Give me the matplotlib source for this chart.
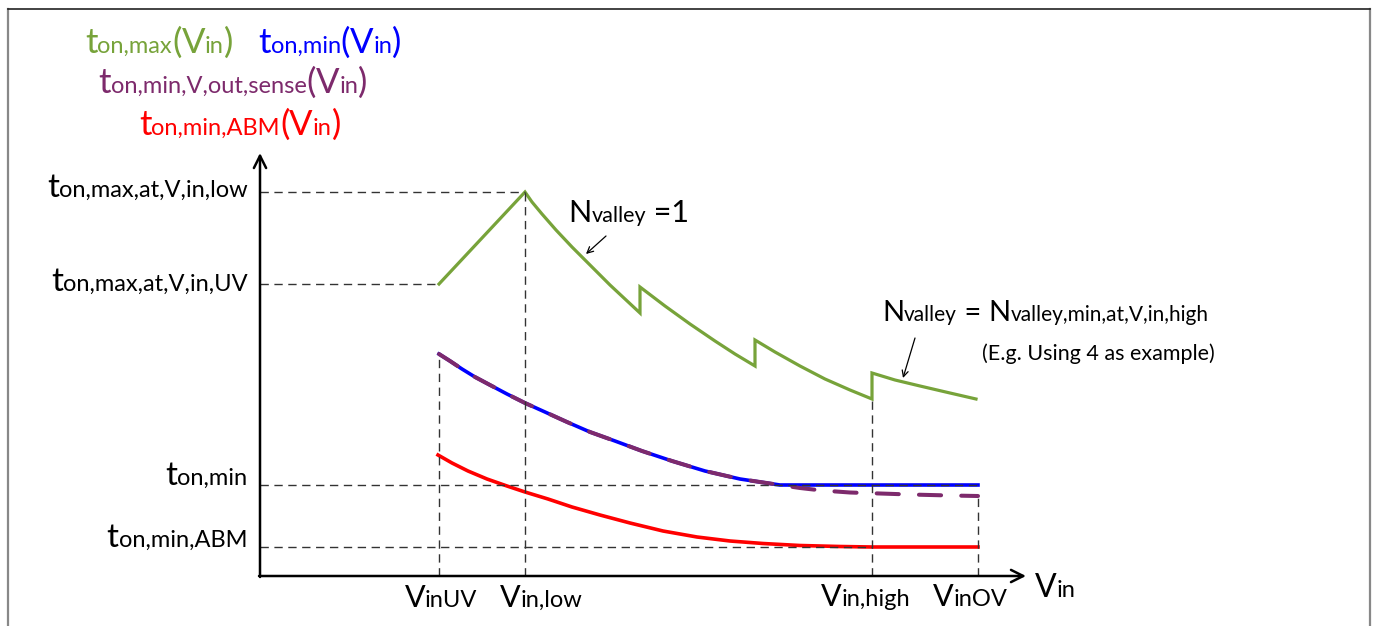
import matplotlib
matplotlib.use("Agg")
import matplotlib.pyplot as plt
from matplotlib.transforms import offset_copy
from matplotlib.lines import Line2D

plt.rcParams['font.family'] = ['Lato', 'DejaVu Sans']

# key voltages / times (arbitrary schematic units)
vin_uv, vin_low, vin_high, vin_ov = 17.9, 26.5, 61.2, 71.8
t_max_low, t_max_uv, t_min, t_min_abm = 38.4, 29.2, 9.1, 2.9

# t_on,max(Vin): ramp up then sawtooth decay (valley jumps)
green_v = [17.9, 26.5, 27.2, 28.2, 29.6, 31.2, 33.0, 35.0, 38.0,
           38.0, 40.5, 43.0, 45.5, 47.5, 49.5,
           49.5, 51.5, 54.0, 56.5, 59.0, 61.2,
           61.2, 63.5, 66.0, 69.0, 71.6]
green_t = [29.2, 38.4, 37.4, 36.2, 34.6, 32.9, 31.1, 29.1, 26.3,
           28.9, 27.0, 25.2, 23.5, 22.2, 21.0,
           23.6, 22.4, 21.0, 19.7, 18.6, 17.7,
           20.3, 19.6, 19.0, 18.3, 17.7]

# t_on,min(Vin)
blue_v = [17.9, 19.0, 20.2, 21.5, 23.0, 24.7, 26.5, 28.5, 30.7, 33.0, 35.5,
          38.2, 41.2, 44.5, 48.0, 52.0, 71.8]
blue_t = [22.2, 21.5, 20.7, 19.9, 19.1, 18.2, 17.3, 16.4, 15.4, 14.4, 13.5,
          12.5, 11.5, 10.5, 9.7, 9.1, 9.1]

# t_on,min,V,out,sense(Vin)
purple_v = [17.9, 19.0, 20.2, 21.5, 23.0, 24.7, 26.5, 28.5, 30.7, 33.0, 35.5,
            38.2, 41.2, 44.5, 48.0, 52.0, 54.0, 56.2, 59.0, 62.0, 65.0, 69.0, 71.8]
purple_t = [22.2, 21.5, 20.7, 19.9, 19.1, 18.2, 17.3, 16.4, 15.4, 14.4, 13.5,
            12.5, 11.5, 10.5, 9.7, 9.1, 8.8, 8.55, 8.35, 8.25, 8.15, 8.05, 8.0]

# t_on,min,ABM(Vin)
red_v = [17.8, 19.2, 20.8, 22.7, 24.7, 26.5, 28.8, 31.2, 34.0, 37.0, 40.3,
         43.7, 47.0, 50.3, 54.0, 58.0, 61.2, 71.8]
red_t = [12.1, 11.3, 10.5, 9.7, 9.0, 8.4, 7.7, 6.9, 6.1, 5.3, 4.5,
         3.9, 3.5, 3.25, 3.05, 2.95, 2.9, 2.9]

GREEN = '#77a33a'
BLUE = '#0000ff'
PURPLE = '#7d2a6c'
RED = '#ff0000'

fig = plt.figure(figsize=(13.75, 6.26), dpi=100)
ax = fig.add_axes([0, 0, 1, 1])
ax.set_xlim(-26, 111.5)
ax.set_ylim(-5, 57.6)
ax.axis('off')

# frame around the slide
fig.add_artist(Line2D([8/1375, 8/1375], [0, 1 - 9/626], transform=fig.transFigure, color='#888888', lw=1.6))
fig.add_artist(Line2D([1370/1375, 1370/1375], [0, 1 - 9/626], transform=fig.transFigure, color='#888888', lw=1.6))
fig.add_artist(Line2D([8/1375, 1370/1375], [1 - 9/626, 1 - 9/626], transform=fig.transFigure, color='#222222', lw=1.2))

# curves
ax.plot(green_v, green_t, color=GREEN, lw=2.3, solid_joinstyle='miter', zorder=3)
ax.plot(blue_v, blue_t, color=BLUE, lw=2.6, zorder=3)
ax.plot(purple_v, purple_t, color=PURPLE, lw=2.9, dashes=(5.5, 5), dash_capstyle='round', zorder=4)
ax.plot(red_v, red_t, color=RED, lw=2.6, zorder=3)

# dashed guide lines
ref = dict(color='#333333', lw=1.0, dashes=(6, 4), zorder=5)
ax.plot([0, vin_low], [t_max_low, t_max_low], **ref)
ax.plot([0, vin_uv], [t_max_uv, t_max_uv], **ref)
ax.plot([0, vin_ov], [t_min, t_min], **ref)
ax.plot([0, vin_high], [t_min_abm, t_min_abm], **ref)
ax.plot([vin_uv, vin_uv], [0, blue_t[0]], **ref)
ax.plot([vin_low, vin_low], [0, t_max_low], **ref)
ax.plot([vin_high, vin_high], [0, green_t[20]], **ref)
ax.plot([vin_ov, vin_ov], [0, purple_t[-1]], **ref)

# axes with arrows
arr = dict(arrowstyle='->', lw=1.8, color='black', shrinkA=0, shrinkB=0, mutation_scale=22)
ax.annotate('', xy=(0, 42.3), xytext=(0, -0.1), arrowprops=arr, zorder=6)
ax.annotate('', xy=(76.6, 0), xytext=(-0.1, 0), arrowprops=arr, zorder=6)

renderer = fig.canvas.get_renderer()


def rich(x, y, parts, ha='left'):
    texts = []
    for s, size, color in parts:
        texts.append(ax.text(x, y, s, fontsize=size, color=color, va='baseline', ha='left'))
    widths = [t.get_window_extent(renderer).width for t in texts]
    shift = {'left': 0, 'center': -sum(widths) / 2, 'right': -sum(widths)}[ha]
    for t, w in zip(texts, widths):
        t.set_transform(offset_copy(ax.transData, fig=fig, x=shift, y=0, units='dots'))
        shift += w


def func_label(x, y, sub, color, ha='left'):
    B, S = 25, 17
    rich(x, y, [('t', B, color), (sub, S, color), ('(', B, color),
                ('V', B, color), ('in', S, color), (')', B, color)], ha)


# legend-like labels at top
func_label(-17.5, 52.3, 'on,max', GREEN)
func_label(-0.2, 52.3, 'on,min', BLUE)
func_label(-2.7, 48.3, 'on,min,V,out,sense', PURPLE, ha='center')
func_label(-2.0, 44.1, 'on,min,ABM', RED, ha='center')

# y labels
k = 'black'
rich(-1.2, 37.9, [('t', 24, k), ('on,max,at,V,in,low', 17, k)], ha='right')
rich(-1.2, 28.5, [('t', 24, k), ('on,max,at,V,in,UV', 17, k)], ha='right')
rich(-1.3, 9.1, [('t', 24, k), ('on,min', 17, k)], ha='right')
rich(-1.3, 2.9, [('t', 24, k), ('on,min,ABM', 17, k)], ha='right')

# x labels
rich(vin_uv + 0.2, -3.1, [('V', 22, k), ('inUV', 17, k)], ha='center')
rich(vin_low + 1.6, -3.1, [('V', 22, k), ('in,low', 17, k)], ha='center')
rich(vin_high - 0.6, -3.0, [('V', 22, k), ('in,high', 17, k)], ha='center')
rich(vin_ov - 0.8, -3.0, [('V', 22, k), ('inOV', 17, k)], ha='center')
rich(77.5, -2.1, [('V', 23, k), ('in', 17, k)])

# valley annotations
rich(30.8, 35.4, [('N', 22, k), ('valley', 15.5, k), (' =1', 22, k)])
rich(62.2, 25.5, [('N', 21, k), ('valley', 15, k), (' = ', 21, k),
                  ('N', 21, k), ('valley,min,at,V,in,high', 15, k)])
ax.text(72.2, 21.6, '(E.g. Using 4 as example)', fontsize=15.5, color=k, va='baseline')

thin = dict(arrowstyle='->', lw=0.9, color='black', shrinkA=0, shrinkB=0, mutation_scale=11)
ax.annotate('', xy=(32.6, 32.2), xytext=(34.6, 34.0), arrowprops=thin)
ax.annotate('', xy=(64.3, 19.8), xytext=(65.5, 23.8), arrowprops=thin)

fig.savefig('out.png', dpi=100)
